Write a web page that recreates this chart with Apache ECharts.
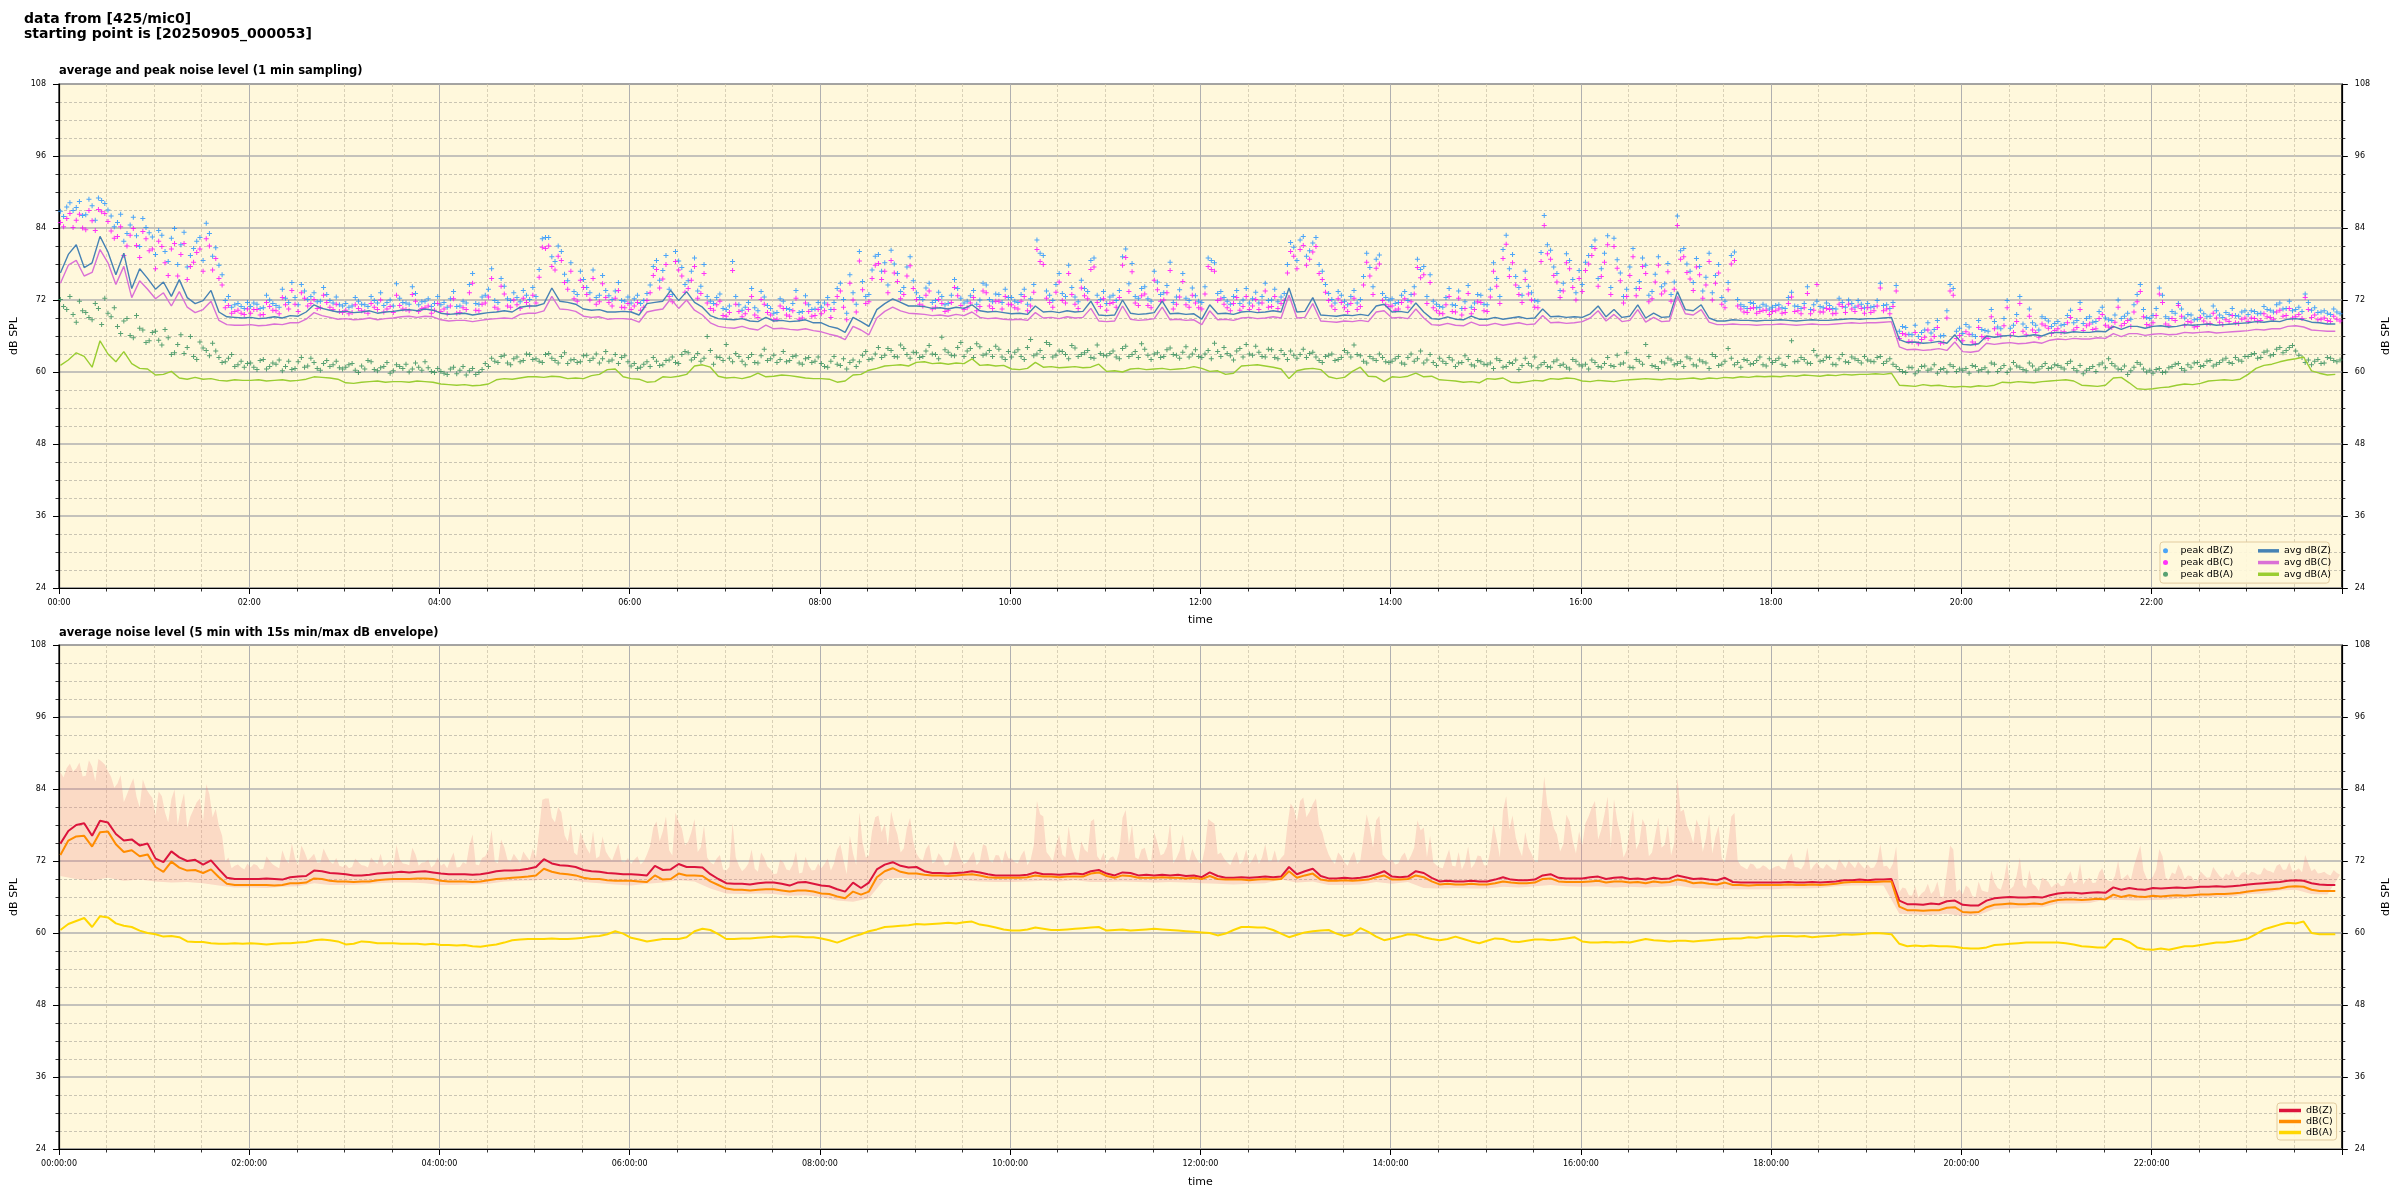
<!DOCTYPE html>
<html>
<head>
<meta charset="utf-8">
<script src="https://cdn.jsdelivr.net/npm/echarts@6/dist/echarts.min.js"></script>
<style>
html,body{margin:0;padding:0;background:#fff;}
#chart{width:2400px;height:1200px;}
</style>
</head>
<body>
<div id="chart"></div>
<script>
// ---------- tick labels / categories ----------
const hourTicks = [0, 2, 4, 6, 8, 10, 12, 14, 16, 18, 20, 22];
const dbTicks = [24, 36, 48, 60, 72, 84, 96, 108];
const startSec = 53; // 00:00:53

// ---------- top panel: 1 min sampling (read every 5 min) ----------
const avgZ = [
76.5,79.6,81.2,77.4,78.2,82.6,80.0,76.2,79.8,73.9,77.2,75.6,
73.8,75.0,72.6,75.4,72.4,71.4,71.9,73.6,70.0,69.2,69.1,69.0,
69.1,68.9,69.0,69.2,69.0,69.4,69.3,70.0,71.2,70.6,70.3,70.0,
70.1,69.9,70.0,70.2,69.8,70.0,70.1,70.3,70.4,70.2,70.5,70.3,
69.8,69.6,69.7,69.8,69.5,69.7,69.9,70.0,70.2,70.0,70.8,71.0,
71.0,71.4,74.0,71.8,71.6,71.3,70.5,70.3,70.4,70.0,70.0,70.1,
70.0,69.5,71.4,71.6,71.8,73.6,71.9,73.4,71.6,70.8,69.4,68.9,
68.8,68.7,68.9,68.5,68.4,69.1,68.5,68.6,68.4,68.5,68.7,68.2,
68.2,67.6,67.3,66.6,69.1,68.4,67.6,70.4,71.4,72.2,71.6,71.0,
71.0,70.9,70.6,70.7,70.5,70.8,70.6,71.2,70.2,70.0,70.1,69.9,
69.7,69.8,69.6,71.0,70.0,70.1,69.9,70.2,70.0,70.1,71.8,69.5,
69.4,69.5,72.0,69.8,69.6,69.7,69.9,71.8,69.7,69.8,69.6,69.7,
68.8,71.2,69.7,69.8,69.6,70.0,70.1,69.9,70.0,70.2,70.0,74.0,
70.0,70.1,72.4,69.5,69.4,69.3,69.5,69.4,69.6,69.4,71.0,71.3,
70.0,70.1,69.9,71.5,70.0,68.9,68.8,69.2,68.8,68.7,69.3,68.8,
68.8,69.1,68.8,69.0,69.2,68.9,69.0,70.5,69.2,69.3,69.1,69.2,
69.1,69.7,71.0,69.2,70.4,69.1,69.3,71.2,69.0,69.8,69.1,69.2,
73.4,70.4,70.2,71.2,69.0,68.5,68.5,68.7,68.6,68.6,68.5,68.6,
68.6,68.7,68.6,68.5,68.6,68.7,68.6,68.6,68.7,68.8,68.9,68.8,
68.9,68.9,69.0,69.1,65.4,64.9,65.0,64.8,64.9,65.1,64.8,66.2,
64.6,64.5,64.7,66.0,65.8,66.0,66.1,65.9,66.0,66.2,66.0,66.5,
66.6,66.5,66.7,66.6,66.6,66.8,66.7,67.6,67.1,67.6,67.6,67.3,
67.6,67.7,67.5,67.6,67.9,67.8,67.9,68.0,67.8,67.9,68.0,68.1,
68.2,68.4,68.3,68.5,68.4,68.8,68.9,68.7,68.3,68.2,68.0,68.0
];
const avgC = [
74.8,77.8,78.6,76.0,76.6,80.4,78.2,74.6,77.6,72.4,75.2,73.8,
72.2,73.2,71.0,73.4,70.8,69.9,70.4,71.8,68.6,67.9,67.8,67.8,
67.9,67.7,67.8,68.0,67.9,68.2,68.2,68.8,69.9,69.4,69.1,68.8,
68.9,68.7,68.8,69.0,68.7,68.9,69.0,69.2,69.3,69.1,69.3,69.2,
68.7,68.5,68.6,68.6,68.4,68.6,68.8,68.9,69.0,68.9,69.6,69.8,
69.8,70.2,72.6,70.5,70.4,70.1,69.3,69.1,69.2,68.8,68.9,68.9,
68.8,68.3,70.0,70.3,70.5,72.2,70.6,72.0,70.3,69.5,68.2,67.6,
67.4,67.3,67.6,67.2,67.0,67.8,67.2,67.3,67.1,67.0,67.2,66.9,
66.7,66.3,66.0,65.4,67.6,67.0,66.2,69.0,70.1,70.8,70.2,69.8,
69.7,69.6,69.4,69.5,69.3,69.6,69.4,70.0,69.1,68.9,69.0,68.8,
68.7,68.8,68.6,69.9,69.0,69.1,68.9,69.2,69.0,69.1,70.6,68.5,
68.4,68.5,71.0,68.8,68.6,68.7,68.9,70.8,68.7,68.8,68.6,68.7,
67.9,70.2,68.7,68.8,68.6,69.0,69.1,68.9,69.0,69.2,69.0,72.8,
69.0,69.1,71.4,68.5,68.4,68.3,68.5,68.4,68.6,68.4,70.0,70.2,
69.0,69.1,68.9,70.5,69.0,67.9,67.8,68.1,67.8,67.7,68.3,67.8,
67.8,68.1,67.8,68.0,68.2,67.9,68.0,69.4,68.2,68.3,68.1,68.2,
68.4,69.0,70.2,68.5,69.6,68.4,68.6,70.4,68.3,69.1,68.4,68.5,
72.6,69.7,69.5,70.4,68.3,67.9,67.9,68.0,67.9,67.9,67.8,67.9,
67.9,68.0,67.9,67.8,67.9,68.0,67.9,67.9,68.0,68.1,68.2,68.1,
68.2,68.2,68.3,68.4,64.2,63.7,63.8,63.6,63.7,63.9,63.6,65.0,
63.4,63.3,63.5,64.8,64.6,64.8,64.9,64.7,64.8,65.0,64.8,65.3,
65.5,65.4,65.6,65.5,65.5,65.7,65.6,66.4,65.9,66.4,66.4,66.1,
66.3,66.4,66.2,66.3,66.6,66.5,66.6,66.7,66.5,66.6,66.7,66.8,
66.9,67.1,67.0,67.2,67.2,67.6,67.7,67.5,67.0,66.9,66.8,66.8
];
const avgA = [
61.1,62.0,63.2,62.6,60.8,65.2,63.0,61.7,63.4,61.4,60.6,60.5,
59.5,59.6,60.1,59.0,58.8,59.1,58.8,58.9,58.6,58.5,58.7,58.6,
58.6,58.7,58.5,58.6,58.7,58.5,58.6,58.8,59.2,59.1,59.0,58.8,
58.2,58.1,58.3,58.4,58.5,58.3,58.4,58.4,58.3,58.5,58.4,58.3,
58.0,57.9,57.8,57.9,57.7,57.8,58.0,58.7,58.9,58.8,59.0,59.2,
59.2,59.1,59.3,59.2,58.9,59.0,58.9,59.4,59.6,60.4,60.5,59.2,
58.9,58.8,58.3,58.4,59.2,59.1,59.3,59.6,61.0,61.2,60.8,59.3,
59.0,59.1,58.9,59.2,59.8,59.2,59.3,59.5,59.4,59.2,59.0,58.9,
58.9,58.8,58.3,58.5,59.5,59.6,60.3,60.6,61.0,61.1,61.2,61.0,
61.6,61.7,61.4,61.5,61.3,61.5,61.4,62.2,61.1,61.2,61.0,61.1,
60.5,60.4,60.6,61.6,60.8,60.9,60.7,60.8,60.9,60.7,60.8,61.3,
60.1,60.2,60.0,60.5,60.6,60.4,60.5,60.6,60.4,60.5,60.6,60.9,
60.6,60.1,60.2,59.6,59.8,61.0,61.1,61.2,61.0,60.8,60.5,58.9,
60.2,60.5,60.6,60.4,59.2,58.9,59.1,60.1,60.8,59.3,59.2,58.4,
59.2,59.1,59.3,59.8,59.2,59.3,58.7,58.6,58.5,58.3,58.4,58.2,
58.9,58.8,59.0,58.3,58.2,58.4,58.6,58.5,58.9,58.8,59.0,58.9,
58.5,58.4,58.6,58.5,58.4,58.6,58.7,58.8,58.9,58.8,58.7,58.9,
58.8,58.9,59.0,58.8,59.0,58.9,59.1,59.0,59.2,59.1,59.3,59.2,
59.3,59.2,59.4,59.3,59.5,59.4,59.3,59.5,59.4,59.6,59.5,59.6,
59.6,59.7,59.6,59.8,57.8,57.7,57.6,57.9,57.7,57.8,57.6,57.5,
57.6,57.5,57.7,57.6,57.8,58.3,58.2,58.4,58.3,58.2,58.4,58.5,
58.6,58.7,58.5,57.8,57.7,57.6,57.8,59.0,59.1,58.2,57.2,57.1,
57.2,57.4,57.5,57.8,58.0,57.9,58.1,58.5,58.6,58.7,58.6,58.8,
59.6,60.6,61.1,61.3,61.7,62.0,62.2,62.5,60.2,59.8,59.5,59.6
];

// ---------- top panel peaks: readings at minutes 0,4,8,... of each hour ----------
const peakZ = [
86.8,87.5,86.9,88.4,86.2,87.7,89.0,88.1,86.0,84.9,81.8,84.5,82.7,85.6,83.2,
79.6,82.8,78.4,83.9,81.2,77.5,80.6,82.4,84.8,79.3,77.8,71.9,70.8,71.4,70.6,
70.9,71.3,70.7,72.0,71.1,73.8,71.6,72.4,74.6,72.1,73.2,71.8,72.9,71.5,71.2,
71.4,71.0,71.8,71.2,72.6,71.5,71.1,72.0,74.7,71.6,71.3,73.1,71.7,72.2,71.4,
71.2,70.8,73.4,71.0,71.5,76.4,71.3,72.8,77.2,71.6,74.3,71.9,72.4,73.6,72.1,
72.6,82.2,82.4,78.4,80.1,75.2,73.4,76.8,74.1,77.0,72.8,73.6,72.1,74.9,71.8,
71.5,72.8,71.9,74.5,78.6,76.9,73.8,80.1,77.4,75.2,79.0,74.3,72.6,71.4,73.0,
70.4,78.4,71.2,70.8,73.9,70.2,72.5,70.6,69.9,71.8,70.4,73.6,70.1,71.2,70.5,
70.8,72.4,71.6,74.8,69.8,73.2,80.1,72.6,77.0,79.6,78.2,80.3,76.4,74.1,79.2,
73.2,72.1,74.8,71.9,72.6,71.4,75.4,72.3,71.8,73.6,72.0,74.5,71.7,72.9,73.8,
72.4,71.6,73.8,72.2,82.0,79.4,72.8,74.6,73.1,77.8,72.5,75.3,73.4,79.0,72.1,
71.4,72.8,73.6,80.5,78.1,72.3,74.2,71.8,75.0,73.2,78.3,72.5,76.4,71.9,72.7,
71.6,79.0,78.2,73.4,71.8,72.6,71.4,73.9,72.2,71.5,74.8,72.0,71.7,73.1,81.6,
78.6,82.6,80.2,82.4,76.8,73.1,71.5,72.8,71.2,73.6,72.1,79.8,74.2,79.5,72.4,
72.2,71.6,73.4,72.9,78.8,77.6,76.2,71.3,70.8,73.9,71.1,70.6,74.4,71.5,72.8,
71.2,78.2,72.6,82.8,79.6,74.1,76.8,73.2,71.8,86.1,80.3,76.4,74.8,78.6,73.2,
74.6,79.4,82.0,77.2,82.7,82.3,76.5,73.8,80.6,75.1,77.8,73.4,79.2,74.7,72.9,
86.0,80.6,76.8,78.9,73.5,79.8,76.1,72.4,74.9,80.0,71.2,70.6,71.4,70.8,71.0,
70.8,71.2,70.6,73.3,70.9,71.4,70.4,71.8,70.7,71.1,70.5,71.6,72.0,70.8,71.3,
71.4,70.9,74.8,71.2,71.6,66.8,67.4,66.2,65.9,67.0,66.5,68.6,66.1,74.6,66.8,
66.4,67.5,65.9,67.1,66.8,68.4,67.2,71.9,67.8,72.6,67.4,68.2,67.0,68.9,67.6,
68.4,67.9,70.3,68.6,68.1,69.2,68.4,70.8,68.7,69.5,68.9,69.8,71.2,74.6,69.1,
69.4,74.0,69.2,70.1,71.4,69.0,69.5,68.8,69.7,69.3,70.2,69.1,69.6,69.4,70.0,
69.6,70.1,69.8,70.4,70.0,71.5,70.6,70.2,70.8,73.0,70.3,69.9,70.2,69.6,70.0
];
const peakC = [
84.9,85.6,84.1,86.3,83.7,85.2,87.1,86.4,83.5,82.6,79.4,82.8,81.1,83.4,80.2,
77.2,80.9,76.1,81.4,79.6,75.4,78.3,80.5,82.2,77.0,75.6,70.7,69.8,70.3,69.6,
69.8,70.4,69.6,70.9,70.2,72.4,70.5,71.3,73.2,71.0,72.1,70.7,71.6,70.4,70.1,
70.3,69.9,70.6,70.1,71.4,70.4,70.0,70.9,72.8,70.5,70.2,71.8,70.6,71.0,70.3,
70.1,69.7,72.2,69.9,70.4,74.8,70.2,71.5,75.6,70.5,73.0,70.8,71.2,72.3,71.0,
71.5,80.8,81.0,77.0,78.6,73.8,72.2,75.3,72.9,75.6,71.7,72.4,71.0,73.6,70.7,
70.4,71.6,70.8,73.2,77.1,75.5,72.6,78.4,76.0,73.9,77.6,73.1,71.5,70.3,71.8,
69.3,76.9,70.1,69.7,72.6,69.1,71.3,69.5,68.8,70.6,69.3,72.3,69.0,70.1,69.4,
69.7,71.2,70.4,73.5,68.7,72.0,78.5,71.4,75.6,78.1,76.8,78.6,75.1,72.9,77.7,
72.1,71.0,73.5,70.8,71.4,70.3,74.1,71.1,70.7,72.4,70.9,73.2,70.6,71.8,72.6,
71.2,70.5,72.6,71.0,80.4,77.9,71.6,73.3,71.9,76.4,71.3,74.0,72.2,77.5,70.9,
70.3,71.6,72.4,79.1,76.7,71.1,73.0,70.7,73.7,72.0,76.9,71.3,75.1,70.8,71.5,
70.5,77.6,76.8,72.2,70.7,71.4,70.3,72.6,71.0,70.4,73.5,70.9,70.6,71.9,80.1,
77.2,81.1,78.8,80.9,75.4,71.9,70.4,71.6,70.1,72.3,70.9,78.3,72.9,78.0,71.2,
71.0,70.5,72.2,71.7,77.4,76.2,74.9,70.2,69.7,72.6,70.0,69.5,73.1,70.4,71.6,
70.1,76.8,71.4,81.3,78.2,72.9,75.4,72.0,70.7,84.4,78.8,75.0,73.5,77.2,72.0,
73.4,78.0,80.6,75.9,81.2,80.9,75.2,72.6,79.2,73.9,76.4,72.2,77.8,73.5,71.8,
84.4,79.2,75.5,77.5,72.3,78.4,74.8,71.3,73.7,78.6,70.5,69.9,70.7,70.1,70.3,
70.1,70.5,69.9,72.5,70.2,70.7,69.7,74.6,70.0,70.4,69.8,70.9,71.3,70.1,70.6,
70.7,70.2,74.0,70.5,70.9,65.6,66.2,65.0,64.7,65.8,65.3,67.4,64.9,73.5,65.6,
65.2,66.3,64.7,65.9,65.6,67.2,66.0,70.7,66.6,71.4,66.2,67.0,65.8,67.7,66.4,
67.2,66.7,69.1,67.4,66.9,68.0,67.2,69.6,67.5,68.3,67.7,68.6,70.0,73.4,67.9,
68.2,73.0,68.0,68.9,71.1,67.8,68.3,67.6,68.5,68.1,69.0,67.9,68.4,68.2,68.8,
68.4,68.9,68.6,69.2,68.8,70.3,69.4,69.0,69.6,72.4,69.1,68.7,69.0,68.4,68.8
];
const peakA = [
72.1,70.4,69.6,71.8,69.9,68.7,70.6,72.3,69.2,67.6,68.5,66.1,69.4,67.0,65.2,
66.8,64.5,65.7,63.2,66.2,64.1,62.6,65.0,63.6,64.8,62.4,61.7,62.9,61.2,60.8,
61.5,60.4,62.1,60.9,61.3,60.2,61.8,60.6,62.4,61.0,61.6,60.3,61.9,61.2,60.7,
60.8,61.4,59.9,60.5,61.7,60.2,60.9,59.8,61.2,60.6,60.0,61.5,60.3,60.7,59.9,
60.1,59.6,60.8,60.3,59.5,60.6,59.9,61.4,62.3,61.6,62.8,61.2,62.5,61.9,62.9,
62.2,61.6,63.1,61.9,62.6,61.4,62.1,61.7,62.8,62.3,61.5,63.4,62.0,61.4,62.7,
61.0,60.6,61.3,60.9,61.8,61.2,62.0,61.6,62.9,63.2,62.4,61.8,65.9,61.3,62.4,
64.6,61.7,62.6,61.2,62.9,61.5,63.8,62.2,61.6,63.4,61.9,62.7,61.3,62.4,61.8,
61.4,60.8,62.6,61.1,60.5,62.0,61.7,63.4,62.2,64.1,62.8,63.6,62.5,63.9,62.3,
63.2,62.6,64.4,62.9,65.8,63.3,62.7,64.9,63.5,62.4,64.2,63.0,62.6,63.8,62.1,
62.5,63.7,62.1,65.4,63.0,62.4,64.6,62.8,63.4,62.2,64.0,62.9,63.6,62.3,63.1,
62.7,63.5,62.2,64.3,62.9,62.4,63.8,62.1,63.2,62.6,64.0,62.8,63.3,62.5,63.7,
62.4,63.6,64.8,62.6,63.1,62.0,63.9,64.6,62.8,63.3,62.5,63.7,62.2,62.9,63.5,
62.3,63.8,63.1,62.5,61.6,62.8,61.9,62.4,63.2,64.5,62.7,61.5,62.2,63.0,61.7,
61.8,62.6,61.3,63.0,62.2,61.5,62.9,61.1,61.8,62.4,60.9,61.6,62.1,61.0,61.7,
61.2,60.6,61.9,60.9,61.4,60.4,62.3,61.0,60.7,61.6,60.8,62.0,61.3,60.5,61.8,
61.0,60.5,61.6,60.8,62.4,60.9,61.3,63.2,60.7,61.8,64.6,61.1,60.6,61.5,62.0,
61.4,60.9,62.2,61.0,61.7,60.6,62.6,61.3,63.9,61.2,60.8,61.9,61.4,62.5,61.0,
61.6,62.3,61.1,65.2,61.8,62.1,61.4,62.7,61.9,62.4,61.2,62.9,61.6,62.2,61.5,
62.0,61.7,62.6,61.8,61.3,60.4,59.9,60.7,60.2,61.0,60.5,59.8,60.6,61.2,60.1,
60.3,59.8,60.9,60.4,60.0,61.3,60.6,59.9,61.6,60.8,60.2,61.0,60.5,61.4,60.7,
61.1,60.5,61.8,60.2,59.7,60.6,60.1,61.5,62.2,61.0,60.4,59.6,60.8,61.3,60.0,
59.8,60.6,60.0,60.9,61.4,60.3,60.8,61.6,61.1,61.9,61.3,62.0,61.6,62.4,61.8,
62.6,63.1,62.4,63.5,62.9,64.1,63.6,64.4,62.8,61.6,61.2,62.1,61.5,62.3,61.7
];
// ---------- top panel peaks: readings at minutes 2,6,10,... of each hour ----------
const peakZb = [
85.9,88.2,87.4,86.1,88.8,85.3,88.6,87.0,84.2,86.3,83.1,85.8,80.9,84.1,82.5,
83.6,80.1,82.3,77.9,83.3,79.4,81.8,78.6,83.1,80.7,76.2,72.6,71.2,70.9,71.6,
71.5,70.6,72.8,71.4,70.8,72.3,74.9,71.2,73.5,72.6,71.7,74.1,71.9,72.5,71.0,
70.8,72.4,71.3,70.9,71.9,73.2,71.6,71.0,72.3,71.5,74.2,71.2,71.8,70.9,72.6,
71.6,72.2,70.9,71.8,74.6,71.4,72.5,73.8,71.9,75.6,72.2,73.2,71.7,72.8,74.1,
77.1,82.4,79.2,81.0,76.3,78.2,72.9,75.4,73.2,72.4,76.1,72.7,73.5,71.9,72.5,
72.2,71.4,73.1,77.6,75.3,79.4,72.9,78.5,74.6,76.8,73.5,77.9,71.8,72.4,70.6,
71.0,72.6,70.3,71.6,70.7,73.4,71.1,69.8,72.2,70.6,71.4,69.9,72.7,70.4,71.6,
71.5,70.4,73.9,72.1,76.2,71.3,75.1,72.9,79.3,76.8,74.5,78.0,73.4,77.5,75.2,
72.4,74.0,71.6,73.3,71.2,72.8,73.9,71.5,72.7,71.3,74.8,72.1,73.0,71.6,72.4,
71.8,72.9,71.3,74.6,79.8,73.5,71.9,76.4,72.6,74.1,71.7,73.9,78.6,72.8,73.4,
72.5,71.9,79.2,74.7,72.6,73.9,72.2,76.8,72.9,74.4,71.6,73.7,72.3,74.0,71.8,
74.2,78.6,73.1,72.4,71.3,73.6,72.0,71.5,73.3,72.6,71.9,73.8,72.5,77.9,80.8,
82.0,79.3,81.5,77.9,74.6,72.1,73.4,71.8,72.6,71.5,75.9,77.4,78.8,73.1,72.0,
71.4,72.8,71.9,74.2,77.1,72.6,71.8,70.9,72.4,71.2,73.5,71.7,70.8,72.9,71.3,
73.8,75.6,80.4,77.2,75.9,72.8,74.3,71.9,79.9,81.2,77.5,73.6,79.7,75.4,76.9,
78.3,80.9,75.6,79.8,74.1,78.7,72.6,77.5,73.9,79.0,72.8,76.3,74.2,78.1,75.0,
80.2,78.0,74.9,77.6,75.8,73.2,77.9,71.8,79.4,72.1,70.9,71.6,70.7,71.3,70.5,
71.1,70.7,72.4,71.0,70.6,74.2,71.2,70.9,71.5,70.6,72.3,70.8,71.4,71.9,70.7,
70.8,71.9,71.1,70.6,74.4,67.6,66.3,67.8,66.6,68.2,67.1,66.0,70.2,73.9,67.3,
67.9,66.2,68.6,66.9,70.4,67.5,68.9,67.3,69.6,68.0,70.5,67.8,69.2,68.5,68.1,
67.8,69.4,68.2,71.6,68.9,68.3,70.1,69.0,68.6,72.0,69.3,68.8,72.9,70.4,68.9,
70.6,72.8,68.9,69.8,70.5,69.6,68.7,70.3,69.2,71.0,69.5,69.9,70.6,69.3,70.2,
70.2,69.7,70.9,70.3,71.2,70.5,71.8,70.4,70.1,71.6,70.7,70.0,69.8,70.5,69.7
];
const peakCb = [
84.2,86.4,85.3,84.0,86.9,83.6,86.7,85.1,82.3,84.2,81.0,83.9,79.1,82.2,80.5,
81.8,78.2,80.5,76.0,81.4,77.6,79.9,76.8,81.0,78.9,74.5,71.1,70.1,69.8,70.5,
70.4,69.5,71.6,70.3,69.7,71.2,73.6,70.1,72.3,71.4,70.6,72.8,70.8,71.3,69.9,
69.7,71.2,70.2,69.8,70.8,72.0,70.5,69.9,71.1,70.4,72.9,70.1,70.7,69.8,71.4,
70.5,71.0,69.8,70.7,73.2,70.3,71.3,72.5,70.8,74.3,71.0,72.0,70.6,71.6,72.8,
75.8,80.6,77.6,79.3,74.9,76.8,71.8,74.1,72.0,71.3,74.7,71.6,72.3,70.8,71.4,
71.0,70.3,71.9,76.1,74.0,77.9,71.7,77.0,73.3,75.3,72.3,76.4,70.6,71.2,69.4,
69.9,71.3,69.2,70.4,69.5,72.1,69.9,68.7,71.0,69.5,70.2,68.8,71.5,69.3,70.4,
70.2,69.1,72.6,70.8,74.8,70.0,73.7,71.7,77.8,75.4,73.2,76.5,72.2,76.0,73.9,
71.3,72.8,70.5,72.1,70.1,71.6,72.7,70.4,71.5,70.2,73.5,71.0,71.8,70.5,71.3,
70.7,71.8,70.2,73.3,78.4,72.3,70.8,75.0,71.5,72.9,70.6,72.7,77.1,71.6,72.2,
71.4,70.8,77.8,73.4,71.5,72.7,71.1,75.3,71.8,73.2,70.5,72.5,71.2,72.8,70.7,
73.0,77.1,71.9,71.3,70.2,72.4,70.9,70.4,72.1,71.5,70.8,72.6,71.4,76.5,79.3,
80.4,77.8,80.0,76.4,73.3,71.0,72.2,70.7,71.4,70.4,74.5,76.0,77.3,71.9,70.9,
70.3,71.6,70.8,73.0,75.7,71.4,70.7,69.8,71.2,70.1,72.3,70.6,69.7,71.7,70.2,
72.5,74.3,78.9,75.9,74.5,71.6,73.0,70.8,78.4,79.7,76.1,72.4,78.2,74.1,75.6,
76.9,79.4,74.3,78.3,72.9,77.3,71.5,76.1,72.7,77.6,71.7,75.0,73.0,76.7,73.8,
78.8,76.6,73.6,76.2,74.5,72.0,76.5,70.7,78.0,71.0,70.0,70.6,69.8,70.3,69.6,
70.2,69.8,71.4,70.1,69.7,73.1,70.3,70.0,70.6,69.7,71.3,69.9,70.5,71.0,69.8,
69.9,71.0,70.2,69.7,73.5,66.4,65.1,66.6,65.4,67.0,65.9,64.8,69.0,72.8,66.1,
66.7,65.0,67.4,65.7,69.2,66.3,67.7,66.1,68.4,66.8,69.3,66.6,68.0,67.3,66.9,
66.6,68.2,67.0,70.4,67.7,67.1,68.9,67.8,67.4,70.8,68.1,67.6,71.7,69.2,67.7,
69.4,71.6,67.7,68.6,69.3,68.4,67.5,69.1,68.0,69.8,68.3,68.7,69.4,68.1,69.0,
69.0,68.5,69.7,69.1,70.0,69.3,70.6,69.2,68.9,70.4,69.5,68.8,68.6,69.3,68.5
];
const peakAb = [
70.9,72.6,68.3,70.2,69.1,71.4,67.9,69.8,70.7,66.4,68.9,65.7,67.3,64.9,66.6,
65.3,67.1,62.9,64.6,63.1,65.9,62.1,64.0,62.7,63.5,61.6,62.3,60.9,61.8,61.4,
60.8,61.9,60.5,61.5,62.0,60.9,60.4,61.7,60.8,62.3,60.6,61.4,60.9,61.8,60.5,
61.2,60.3,61.0,61.9,60.4,60.7,61.6,60.2,60.9,61.3,60.5,60.8,61.7,60.1,60.6,
59.8,60.5,59.7,60.9,60.2,59.6,60.4,60.9,61.8,62.6,61.5,62.2,61.7,63.0,62.1,
61.8,62.9,62.3,61.5,63.2,62.0,61.6,62.7,61.9,63.0,62.2,61.8,62.9,62.4,61.7,
61.4,60.8,61.7,62.4,61.1,61.9,62.5,61.4,63.4,62.0,63.1,62.3,63.6,62.5,61.9,
62.3,63.1,61.8,62.4,61.6,62.7,61.9,62.8,62.1,61.7,62.6,61.5,62.2,61.6,62.5,
60.9,61.8,61.3,62.2,61.6,60.9,62.8,62.1,63.0,62.4,63.9,62.6,64.5,62.9,63.3,
62.4,63.5,63.0,62.2,63.7,62.8,64.1,62.6,63.9,64.7,62.8,63.6,64.3,62.5,63.4,
63.3,62.6,64.1,62.7,63.6,64.9,62.5,63.5,62.9,64.4,62.6,63.2,62.4,64.5,62.8,
63.1,62.5,63.9,62.6,63.4,64.7,62.8,63.0,62.4,63.7,62.9,62.3,64.2,63.0,62.6,
63.0,62.2,63.4,64.1,62.7,63.5,62.5,63.0,64.3,62.6,63.8,62.4,63.6,62.1,62.8,
62.9,62.4,63.3,61.9,62.6,63.0,62.1,63.6,62.5,62.9,61.8,62.6,61.9,62.4,61.6,
62.2,61.5,62.4,61.8,63.5,62.0,61.6,62.3,61.4,62.0,61.5,62.7,61.2,61.9,61.3,
61.5,62.2,60.8,61.6,62.0,61.1,61.4,62.5,61.2,60.9,61.7,61.1,60.8,62.1,61.2,
61.3,62.0,60.9,61.4,61.1,62.8,61.5,60.8,62.1,61.3,62.6,60.9,61.7,62.3,61.2,
61.7,62.5,61.2,62.0,61.5,62.9,61.1,61.8,62.3,61.6,62.1,61.3,61.9,61.2,62.2,
61.9,61.3,62.6,61.7,62.4,61.5,63.6,61.8,62.5,61.3,62.2,61.7,62.5,61.9,62.6,
61.8,62.4,61.4,62.2,60.9,60.1,60.8,59.7,60.9,60.3,61.2,60.4,60.0,60.9,60.5,
60.6,61.1,60.2,60.7,61.5,60.1,61.1,60.5,61.0,60.4,61.5,60.3,60.9,60.6,61.2,
60.8,61.4,60.6,61.1,60.3,60.9,61.2,60.7,61.4,60.5,61.0,60.2,61.6,60.5,60.3,
60.4,59.9,60.7,61.3,60.6,61.2,61.5,60.9,61.8,61.0,61.6,62.3,61.4,62.0,62.6,
62.9,62.3,63.3,62.7,63.8,63.2,64.1,63.5,62.4,62.0,61.8,61.4,62.4,61.9,62.0
];

// ---------- bottom panel: 5 min averages ----------
const dBZ5 = [
74.9,77.0,78.0,78.3,76.2,78.7,78.4,76.5,75.4,75.6,74.6,74.9,
72.4,71.8,73.6,72.6,72.0,72.2,71.4,72.1,70.6,69.2,69.0,69.0,
69.0,69.0,69.1,69.0,68.9,69.3,69.4,69.5,70.4,70.3,70.0,69.9,
69.8,69.6,69.6,69.7,69.9,70.0,70.1,70.2,70.1,70.2,70.3,70.1,
69.9,69.8,69.8,69.8,69.7,69.8,70.0,70.3,70.4,70.4,70.5,70.7,
71.0,72.3,71.6,71.3,71.2,71.0,70.5,70.3,70.2,70.0,69.9,69.8,
69.8,69.7,69.6,71.2,70.5,70.6,71.5,71.0,71.0,70.9,69.8,69.0,
68.3,68.2,68.2,68.1,68.3,68.4,68.4,68.2,67.9,68.4,68.5,68.2,
67.9,67.8,67.3,66.9,68.4,67.5,68.4,70.6,71.4,71.8,71.2,70.9,
71.0,70.3,70.0,70.0,69.9,70.0,70.1,70.3,70.1,69.8,69.6,69.6,
69.6,69.6,69.7,70.1,69.8,69.8,69.7,69.8,69.9,69.8,70.3,70.5,
69.9,69.6,70.1,70.0,69.6,69.7,69.6,69.7,69.6,69.7,69.5,69.6,
69.3,70.1,69.5,69.2,69.2,69.3,69.2,69.3,69.4,69.3,69.4,71.0,
69.8,70.3,70.7,69.5,69.1,69.1,69.2,69.1,69.2,69.4,69.8,70.3,
69.4,69.3,69.4,70.3,70.0,69.2,68.6,68.7,68.6,68.6,68.7,68.6,
68.6,68.9,69.3,68.9,68.8,68.8,68.9,69.6,69.8,69.2,69.1,69.1,
69.1,69.3,69.4,69.0,69.2,69.3,69.0,69.1,68.9,69.2,69.0,69.1,
69.6,69.3,69.0,69.1,68.9,68.8,69.2,68.5,68.4,68.4,68.4,68.4,
68.4,68.4,68.5,68.4,68.4,68.5,68.4,68.5,68.6,68.8,68.8,68.9,
68.8,68.9,68.9,69.0,65.4,64.8,64.8,64.7,64.9,64.8,65.3,65.4,
64.7,64.6,64.6,65.4,65.8,65.9,66.0,65.9,65.9,66.0,65.9,66.3,
66.6,66.7,66.7,66.6,66.7,66.8,66.7,67.6,67.2,67.5,67.3,67.2,
67.5,67.4,67.5,67.6,67.5,67.6,67.7,67.7,67.8,67.7,67.8,67.9,
68.1,68.2,68.3,68.4,68.5,68.7,68.8,68.7,68.3,68.1,68.0,68.0
];
const dBC5 = [
73.0,75.4,76.1,76.2,74.4,76.8,76.9,74.8,73.5,73.8,72.8,73.1,
71.0,70.2,71.9,70.9,70.4,70.5,70.0,70.6,69.3,68.2,68.0,68.0,
68.0,68.0,68.0,67.9,68.0,68.3,68.3,68.4,69.1,69.0,68.7,68.6,
68.6,68.5,68.6,68.6,68.8,68.9,69.0,69.0,69.0,69.1,69.1,69.0,
68.7,68.6,68.6,68.6,68.5,68.6,68.8,69.0,69.1,69.2,69.3,69.4,
69.6,70.7,70.2,69.9,69.8,69.6,69.2,69.0,69.0,68.8,68.7,68.7,
68.7,68.6,68.5,69.6,68.9,69.0,69.9,69.6,69.6,69.5,68.6,68.0,
67.4,67.2,67.2,67.1,67.2,67.3,67.3,67.1,66.9,67.1,67.1,66.9,
66.6,66.5,66.1,65.8,66.9,66.4,66.9,69.3,70.3,70.8,70.2,69.9,
69.9,69.7,69.6,69.6,69.5,69.6,69.7,69.8,69.6,69.3,69.2,69.2,
69.2,69.2,69.3,69.6,69.4,69.4,69.3,69.4,69.4,69.4,69.9,70.1,
69.5,69.2,69.6,69.5,69.2,69.2,69.2,69.3,69.2,69.2,69.1,69.2,
69.0,69.5,69.0,68.9,68.9,68.9,68.8,68.9,69.0,68.9,69.0,70.3,
69.2,69.6,69.9,68.9,68.7,68.7,68.8,68.7,68.8,68.9,69.3,69.6,
68.9,68.9,69.0,69.6,69.3,68.6,68.1,68.2,68.1,68.1,68.2,68.1,
68.1,68.3,68.6,68.4,68.3,68.3,68.4,69.0,69.1,68.6,68.5,68.5,
68.5,68.6,68.7,68.4,68.6,68.6,68.4,68.5,68.3,68.6,68.4,68.5,
68.9,68.7,68.3,68.4,68.2,68.1,68.4,68.0,68.0,67.9,68.0,68.0,
68.0,68.0,68.1,68.0,68.0,68.1,68.0,68.1,68.2,68.4,68.5,68.5,
68.5,68.5,68.6,68.6,64.4,63.8,63.8,63.7,63.8,63.8,64.2,64.3,
63.5,63.4,63.5,64.3,64.7,64.8,64.9,64.8,64.8,64.9,64.8,65.2,
65.5,65.6,65.6,65.5,65.6,65.7,65.6,66.4,66.0,66.3,66.1,66.0,
66.2,66.1,66.2,66.3,66.2,66.3,66.4,66.4,66.5,66.5,66.6,66.7,
66.9,67.1,67.2,67.3,67.4,67.7,67.8,67.7,67.2,67.0,67.0,67.0
];
const dBA5 = [
60.5,61.5,62.0,62.5,61.0,62.8,62.6,61.6,61.2,61.0,60.4,60.0,
59.8,59.4,59.5,59.3,58.6,58.5,58.5,58.3,58.2,58.2,58.3,58.2,
58.3,58.2,58.1,58.2,58.3,58.3,58.4,58.5,58.8,58.9,58.8,58.6,
58.1,58.2,58.6,58.5,58.3,58.3,58.3,58.2,58.2,58.2,58.1,58.2,
58.0,58.0,57.9,58.0,57.8,57.7,57.9,58.1,58.4,58.8,58.9,59.0,
59.0,59.0,59.1,59.0,59.0,59.1,59.2,59.4,59.5,59.8,60.3,59.9,
59.2,58.9,58.6,58.8,59.0,59.0,59.0,59.3,60.3,60.7,60.5,59.8,
59.0,59.0,59.1,59.1,59.2,59.3,59.4,59.3,59.4,59.4,59.3,59.3,
59.1,58.8,58.4,58.9,59.4,59.8,60.3,60.6,61.0,61.1,61.2,61.3,
61.5,61.4,61.5,61.6,61.7,61.6,61.8,61.9,61.4,61.2,60.9,60.6,
60.4,60.4,60.6,60.9,60.7,60.5,60.5,60.6,60.7,60.8,60.9,61.0,
60.4,60.5,60.6,60.4,60.5,60.6,60.7,60.6,60.5,60.4,60.3,60.2,
60.1,60.0,59.6,59.9,60.5,61.0,61.0,60.9,60.9,60.5,59.9,59.3,
59.7,60.1,60.3,60.4,60.5,59.9,59.5,59.8,60.8,60.2,59.4,58.8,
59.1,59.4,59.8,59.7,59.3,59.0,58.8,59.0,59.4,59.0,58.6,58.3,
58.7,59.1,59.0,58.6,58.5,58.7,58.9,58.9,58.8,58.9,59.1,59.3,
58.6,58.4,58.4,58.5,58.4,58.5,58.4,58.7,59.0,58.8,58.7,58.6,
58.7,58.7,58.6,58.7,58.8,58.9,59.0,59.1,59.1,59.3,59.2,59.4,
59.4,59.5,59.5,59.4,59.5,59.3,59.4,59.5,59.6,59.8,59.7,59.8,
59.9,60.0,59.9,59.8,58.2,57.8,57.9,57.8,57.9,57.8,57.8,57.7,
57.5,57.4,57.4,57.6,58.0,58.1,58.2,58.3,58.4,58.4,58.4,58.4,
58.4,58.3,58.1,57.8,57.7,57.6,57.6,59.0,59.0,58.5,57.6,57.3,
57.2,57.4,57.2,57.5,57.8,57.8,58.0,58.2,58.4,58.4,58.6,58.8,
59.1,59.8,60.6,61.0,61.4,61.7,61.6,61.9,60.0,59.8,59.8,59.8
];
// 15 s min envelope, lower edge (read every 10 min); the upper edge follows the peak dB(Z) readings
const envMin = [
69.5,69.0,68.8,69.2,68.7,68.9,
68.6,68.4,68.5,68.3,67.9,67.6,
67.6,67.5,67.7,67.8,68.3,68.0,
68.0,68.1,68.3,68.4,68.4,68.3,
68.0,68.0,68.1,68.2,68.6,68.7,
68.8,69.0,68.9,68.5,68.3,68.1,
67.9,68.2,68.4,68.8,68.6,67.4,
66.6,66.5,66.6,66.5,66.2,66.3,
66.0,65.4,65.2,65.8,69.0,69.2,
69.0,68.9,68.9,68.8,68.6,68.5,
68.5,68.6,68.7,68.6,68.8,68.5,
68.5,68.6,68.5,68.4,68.5,68.4,
68.3,68.2,68.1,68.2,68.3,68.9,
68.4,68.6,68.0,68.0,68.1,68.5,
68.2,68.5,67.5,67.4,67.5,67.4,
67.4,67.7,67.6,67.8,68.0,67.8,
67.7,67.8,67.6,67.7,67.6,67.7,
67.9,67.5,67.4,67.3,67.3,67.3,
67.3,67.4,67.4,67.5,67.8,67.9,
67.9,67.9,63.2,63.1,63.0,63.2,
62.8,63.0,64.0,64.1,64.2,64.3,
64.9,64.9,65.0,65.6,65.5,65.4,
65.5,65.6,65.8,65.9,66.0,66.1,
66.5,66.6,67.1,67.2,66.5,66.4
];

// ---------- build [hour, value] pairs from the sampling step ----------
function toPairs(arr, stepMin, offsetMin) {
  return arr.map((v, i) => [(startSec + (offsetMin || 0) * 60 + i * stepMin * 60) / 3600, v]);
}
function merged(a, b) {
  const out = [];
  for (let i = 0; i < a.length; i++) { out.push(a[i]); if (i < b.length) out.push(b[i]); }
  return out;
}
const FONT = 'DejaVu Sans, Liberation Sans, sans-serif';
const pad2 = n => (n < 10 ? '0' : '') + n;
const plusSymbol = 'path://M0,2H5V3H0Z M2,0H3V5H2Z';

const pZ = merged(toPairs(peakZ, 4, 0), toPairs(peakZb, 4, 2));
const pC = merged(toPairs(peakC, 4, 0), toPairs(peakCb, 4, 2));
const pA = merged(toPairs(peakA, 4, 0), toPairs(peakAb, 4, 2));
const envTop = pZ;
const envBot = toPairs(envMin, 10, 0);

function makeX(gridIndex, withSeconds) {
  return {
    type: 'value', gridIndex: gridIndex, min: 0, max: 24, interval: 2,
    name: 'time', nameLocation: 'middle', nameGap: withSeconds ? 28 : 27,
    nameTextStyle: { fontFamily: FONT, fontSize: 11, color: '#000' },
    axisLine: { show: true, lineStyle: { color: '#000', width: 1.2 } },
    axisTick: { show: true, length: 6, lineStyle: { color: '#000', width: 1 } },
    minorTick: { show: true, splitNumber: 4, length: 3.5, lineStyle: { color: '#000', width: 0.8 } },
    axisLabel: {
      fontFamily: FONT, fontSize: 8, color: '#000', margin: 11, showMaxLabel: false,
      formatter: v => hourTicks.indexOf(v) >= 0 ? pad2(v) + ':00' + (withSeconds ? ':00' : '') : ''
    },
    splitLine: { show: true, lineStyle: { color: '#b0b0b0', width: 1 } },
    minorSplitLine: { show: true, lineStyle: { color: '#cfc7ad', width: 0.8, type: [3, 2] } }
  };
}
function makeY(gridIndex, pos) {
  const left = pos === 'left';
  return {
    type: 'value', gridIndex: gridIndex, position: pos, min: 24, max: 108, interval: 12,
    name: 'dB SPL', nameLocation: 'middle', nameRotate: 90, nameGap: left ? 33 : 29,
    nameTextStyle: { fontFamily: FONT, fontSize: 11, color: '#000' },
    axisLine: { show: true, lineStyle: { color: '#000', width: 1.2 } },
    axisTick: { show: true, length: 6, lineStyle: { color: '#000', width: 1 } },
    minorTick: { show: true, splitNumber: 4, length: 3.5, lineStyle: { color: '#000', width: 0.8 } },
    axisLabel: {
      fontFamily: FONT, fontSize: 8, color: '#000', margin: 13,
      formatter: v => dbTicks.indexOf(v) >= 0 ? String(v) : ''
    },
    splitLine: { show: left, lineStyle: { color: '#b0b0b0', width: 1.6 } },
    minorSplitLine: { show: left, lineStyle: { color: '#bdb8a8', width: 0.8, type: [3, 2] } }
  };
}

const chart = echarts.init(document.getElementById('chart'), null, { renderer: 'canvas' });
chart.setOption({
  animation: false,
  backgroundColor: '#ffffff',
  title: [
    { text: 'data from [425/mic0]\nstarting point is [20250905_000053]', left: 24, top: 12, padding: 0,
      textStyle: { fontFamily: FONT, fontSize: 14, fontWeight: 'bold', lineHeight: 15, color: '#000' } },
    { text: 'average and peak noise level (1 min sampling)', left: 59, top: 65.5, padding: 0,
      textStyle: { fontFamily: FONT, fontSize: 11.5, fontWeight: 'bold', color: '#000' } },
    { text: 'average noise level (5 min with 15s min/max dB envelope)', left: 59, top: 627, padding: 0,
      textStyle: { fontFamily: FONT, fontSize: 11.5, fontWeight: 'bold', color: '#000' } }
  ],
  grid: [
    { left: 59, right: 56, top: 84, height: 504, show: true, backgroundColor: '#fff8dc', borderColor: '#000', borderWidth: 1.2 },
    { left: 59, right: 56, top: 645, height: 504, show: true, backgroundColor: '#fff8dc', borderColor: '#000', borderWidth: 1.2 }
  ],
  xAxis: [makeX(0, false), makeX(1, true)],
  yAxis: [makeY(0, 'left'), makeY(0, 'right'), makeY(1, 'left'), makeY(1, 'right')],
  legend: [
    { data: [{ name: 'peak dB(Z)', icon: 'circle' }, { name: 'peak dB(C)', icon: 'circle' }, { name: 'peak dB(A)', icon: 'circle' }],
      orient: 'vertical', left: 2160, top: 542, itemWidth: 20, itemHeight: 5, itemGap: 0,
      padding: [3, 96, 3, 3], backgroundColor: 'rgba(255,248,220,0.9)', borderColor: '#e2cc9f', borderWidth: 1, borderRadius: 3,
      selectedMode: false, textStyle: { fontFamily: FONT, fontSize: 9.5, lineHeight: 11.7, color: '#000' } },
    { data: [{ name: 'avg dB(Z)', icon: 'rect' }, { name: 'avg dB(C)', icon: 'rect' }, { name: 'avg dB(A)', icon: 'rect' }],
      orient: 'vertical', left: 2258, top: 545, itemWidth: 21, itemHeight: 3.5, itemGap: 0, padding: 0, z: 10,
      selectedMode: false, textStyle: { fontFamily: FONT, fontSize: 9.5, lineHeight: 11.7, color: '#000' } },
    { data: [{ name: 'dB(Z)', icon: 'rect' }, { name: 'dB(C)', icon: 'rect' }, { name: 'dB(A)', icon: 'rect' }],
      orient: 'vertical', left: 2277, top: 1103, itemWidth: 22, itemHeight: 3.5, itemGap: 0,
      padding: [2, 4, 2, 2], backgroundColor: 'rgba(255,248,220,0.9)', borderColor: '#e2cc9f', borderWidth: 1, borderRadius: 3,
      selectedMode: false, textStyle: { fontFamily: FONT, fontSize: 9.5, lineHeight: 11, color: '#000' } }
  ],
  series: [
    { name: 'peak dB(Z)', type: 'scatter', xAxisIndex: 0, yAxisIndex: 0, symbol: plusSymbol, symbolSize: 5,
      itemStyle: { color: '#1e90ff' }, data: pZ, silent: true },
    { name: 'peak dB(C)', type: 'scatter', xAxisIndex: 0, yAxisIndex: 0, symbol: plusSymbol, symbolSize: 5,
      itemStyle: { color: '#ff00ff' }, data: pC, silent: true },
    { name: 'peak dB(A)', type: 'scatter', xAxisIndex: 0, yAxisIndex: 0, symbol: plusSymbol, symbolSize: 5,
      itemStyle: { color: '#2e8b57' }, data: pA, silent: true },
    { name: 'avg dB(Z)', type: 'line', xAxisIndex: 0, yAxisIndex: 0, showSymbol: false, silent: true,
      lineStyle: { color: '#4682b4', width: 1.4 }, itemStyle: { color: '#4682b4' }, data: toPairs(avgZ, 5, 0) },
    { name: 'avg dB(C)', type: 'line', xAxisIndex: 0, yAxisIndex: 0, showSymbol: false, silent: true,
      lineStyle: { color: '#da70d6', width: 1.4 }, itemStyle: { color: '#da70d6' }, data: toPairs(avgC, 5, 0) },
    { name: 'avg dB(A)', type: 'line', xAxisIndex: 0, yAxisIndex: 0, showSymbol: false, silent: true,
      lineStyle: { color: '#9acd32', width: 1.4 }, itemStyle: { color: '#9acd32' }, data: toPairs(avgA, 5, 0) },
    { name: 'envelope', type: 'custom', xAxisIndex: 1, yAxisIndex: 2, silent: true, clip: true,
      data: [[12, 70]],
      renderItem: function (params, api) {
        const pts = [];
        for (let k = 0; k < envTop.length; k++) pts.push(api.coord(envTop[k]));
        for (let k = envBot.length - 1; k >= 0; k--) pts.push(api.coord(envBot[k]));
        return { type: 'polygon', shape: { points: pts }, style: { fill: 'rgba(240,128,128,0.25)', stroke: null } };
      } },
    { name: 'dB(Z)', type: 'line', xAxisIndex: 1, yAxisIndex: 2, showSymbol: false, silent: true,
      lineStyle: { color: '#dc143c', width: 2 }, itemStyle: { color: '#dc143c' }, data: toPairs(dBZ5, 5, 0) },
    { name: 'dB(C)', type: 'line', xAxisIndex: 1, yAxisIndex: 2, showSymbol: false, silent: true,
      lineStyle: { color: '#ff8c00', width: 2 }, itemStyle: { color: '#ff8c00' }, data: toPairs(dBC5, 5, 0) },
    { name: 'dB(A)', type: 'line', xAxisIndex: 1, yAxisIndex: 2, showSymbol: false, silent: true,
      lineStyle: { color: '#ffd700', width: 2 }, itemStyle: { color: '#ffd700' }, data: toPairs(dBA5, 5, 0) }
  ]
});
</script>
</body>
</html>
